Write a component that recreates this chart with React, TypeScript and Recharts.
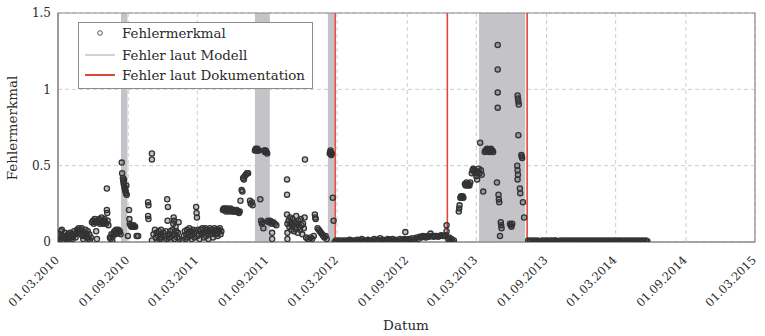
import React from 'react';
import { ScatterChart, Scatter, XAxis, YAxis, CartesianGrid, ReferenceArea, ReferenceLine, Legend } from 'recharts';

// x = days since 01.03.2010
const tickDays = [0, 184, 365, 549, 731, 915, 1096, 1280, 1461, 1645, 1826];
const tickLabels = ['01.03.2010', '01.09.2010', '01.03.2011', '01.09.2011', '01.03.2012', '01.09.2012', '01.03.2013', '01.09.2013', '01.03.2014', '01.09.2014', '01.03.2015'];
const yTicks = [0, 0.5, 1, 1.5];
const yTickLabels = ['0', '0.5', '1', '1.5'];

// "Fehler laut Modell" periods (start day, end day)
const modelBands: [number, number][] = [[165, 182], [516, 555], [707, 723], [1103, 1224]];
// "Fehler laut Dokumentation" dates
const docDays = [726, 1020, 1229];

// Fehlermerkmal: [day, value]
const seg2010a: [number, number][] = [
  [0,0.01],[2,0.03],[4,0.05],[6,0.02],[8,0.07],[10,0.08],[12,0.04],[14,0.01],[16,0.03],[18,0.06],[20,0.02],[22,0.04],[24,0.0],[26,0.05],[28,0.03],[30,0.01],[32,0.06],[34,0.03],[36,0.05],[38,0.02],[40,0.04],[42,0.07],[44,0.05],[46,0.03],[48,0.06],[50,0.08],[52,0.07],[54,0.09],[56,0.06],[58,0.08],[60,0.05],[62,0.09],[64,0.04],[66,0.02],[68,0.06],[70,0.04],[72,0.08],[74,0.05],[76,0.03],[78,0.07],[80,0.02],[82,0.05],[84,0.01],[86,0.03],
  [89,0.13],[92,0.14],[94,0.12],[96,0.15],[98,0.13],[100,0.07],[102,0.02],[104,0.14],[106,0.13],[108,0.15],[110,0.12],[112,0.14],[114,0.16],[116,0.13],[118,0.12],[120,0.14],[122,0.15],[124,0.13],[126,0.12],[128,0.35],[128,0.21],[129,0.19],[130,0.14],[132,0.11],
  [136,0.03],[138,0.02],[140,0.05],[142,0.01],[144,0.04],[146,0.06],[148,0.07],[150,0.05],[152,0.08],[154,0.06],[156,0.07],[158,0.08],[160,0.06],[162,0.07],[164,0.05],
  [167,0.52],[168,0.45],[170,0.42],[171,0.4],[172,0.38],[173,0.41],[174,0.36],[175,0.35],[176,0.34],[177,0.33],[178,0.32],[179,0.37],[180,0.31],
  [183,0.04],[186,0.21],[187,0.15],[188,0.12],[190,0.11],[192,0.1],[194,0.11],[196,0.1],[198,0.11],[200,0.1],[202,0.1],[206,0.04],[210,0.04],
];
const seg2010b: [number, number][] = [
  [236,0.26],[237,0.24],[236,0.17],[237,0.15],[246,0.58],[246,0.54],[246,0.01],[250,0.05],[254,0.08],[256,0.03],[258,0.06],[260,0.0],[262,0.04],[264,0.07],[266,0.02],[268,0.05],[270,0.08],[272,0.03],[276,0.06],[278,0.01],[280,0.04],[282,0.07],[284,0.02],[286,0.28],[288,0.23],[287,0.14],[290,0.05],[292,0.03],[294,0.07],[296,0.0],[298,0.04],[300,0.08],[302,0.12],[303,0.16],[304,0.14],[305,0.02],[306,0.05],[308,0.1],[310,0.07],[312,0.03],[314,0.06],[316,0.13],[318,0.02],[326,0.01],
  [330,0.04],[332,0.07],[334,0.02],[336,0.05],[338,0.08],[340,0.03],[342,0.06],[344,0.09],[346,0.04],[348,0.07],[350,0.02],[352,0.05],[354,0.08],[356,0.06],[358,0.03],[360,0.07],[362,0.23],[363,0.19],[364,0.16],[365,0.04],[367,0.08],[369,0.05],[371,0.02],
  [374,0.08],[376,0.05],[378,0.09],[380,0.06],[382,0.03],[384,0.07],[386,0.09],[388,0.04],[390,0.08],[392,0.06],[394,0.02],[396,0.07],[398,0.09],[400,0.05],[402,0.08],[404,0.06],[406,0.03],[408,0.07],[410,0.09],[412,0.05],[414,0.08],[416,0.06],[418,0.04],[420,0.08],[422,0.07],[424,0.09],[426,0.05],[428,0.07],
];
const seg2011: [number, number][] = [
  [432,0.21],[434,0.22],[436,0.21],[438,0.22],[440,0.2],[442,0.21],[444,0.22],[446,0.21],[448,0.2],[450,0.21],[452,0.22],[454,0.21],[456,0.2],[458,0.21],[460,0.2],[462,0.21],[464,0.2],[466,0.2],[468,0.21],[470,0.2],[472,0.2],[474,0.19],[476,0.2],
  [478,0.27],[481,0.34],[483,0.33],[485,0.42],[487,0.41],[489,0.43],[492,0.44],[495,0.45],[498,0.45],[503,0.27],[505,0.25],[508,0.26],[510,0.24],
  [516,0.6],[518,0.61],[520,0.6],[522,0.61],[524,0.6],[526,0.6],[530,0.28],[532,0.14],[534,0.12],[536,0.13],[538,0.09],[540,0.6],[542,0.59],[544,0.6],[546,0.59],[548,0.58],[550,0.14],[552,0.13],
  [556,0.14],[558,0.13],[560,0.12],[561,0.06],[561,0.02],[564,0.13],[568,0.12],[572,0.11],
  [600,0.41],[600,0.31],[600,0.18],[601,0.12],[601,0.06],[601,0.02],
  [604,0.14],[606,0.1],[608,0.16],[610,0.12],[612,0.08],[614,0.15],[616,0.11],[618,0.07],[620,0.13],[622,0.09],[624,0.17],[626,0.12],[628,0.06],[630,0.14],[632,0.1],[634,0.08],[636,0.15],[638,0.11],[640,0.05],[642,0.12],[644,0.09],[646,0.16],[647,0.54],
  [650,0.03],[654,0.02],[658,0.01],[662,0.03],[666,0.02],[670,0.04],[673,0.18],[674,0.16],[675,0.15],
  [680,0.09],[683,0.08],[686,0.07],[689,0.06],[692,0.05],[695,0.04],[698,0.03],[701,0.04],[704,0.02],
  [712,0.58],[713,0.59],[714,0.6],[715,0.58],[716,0.57],[717,0.58],[720,0.29],[722,0.14],[725,0.0],
];
const seg2012: [number, number][] = [
  [728,0.01],[732,0.0],[736,0.01],[740,0.005],[744,0.01],[748,0.0],[752,0.01],[756,0.005],[760,0.01],[764,0.015],[768,0.005],[772,0.01],[776,0.0],[780,0.01],[784,0.015],[788,0.005],[792,0.01],[796,0.02],[800,0.01],[804,0.005],[808,0.01],[812,0.015],[816,0.01],[820,0.005],[824,0.01],[828,0.02],[832,0.01],[836,0.015],[840,0.01],[844,0.025],[848,0.01],[852,0.015],[856,0.005],[860,0.01],[864,0.02],[868,0.015],[872,0.01],[876,0.02],[880,0.01],[884,0.015],[888,0.005],[892,0.01],[896,0.02],[900,0.01],[904,0.015],[908,0.02],[910,0.065],[912,0.01],[916,0.015],[920,0.02],[924,0.01],[928,0.025],[932,0.015],[936,0.02],[940,0.03],[944,0.02],[948,0.035],[952,0.03],[956,0.04],[960,0.035],[964,0.03],[968,0.04],[972,0.035],[976,0.055],[980,0.04],[984,0.035],[988,0.04],[992,0.04],[996,0.035],[1000,0.04],[1004,0.045],[1008,0.04],[1012,0.04],[1016,0.045],[1018,0.11],[1018,0.07],
  [1022,0.02],[1025,0.03],[1028,0.01],[1031,0.02],[1034,0.0],[1037,0.01],
];
const seg2013: [number, number][] = [
  [1050,0.2],[1051,0.22],[1052,0.24],[1054,0.29],[1056,0.3],[1058,0.29],[1060,0.3],[1062,0.29],[1066,0.38],[1068,0.37],[1070,0.39],[1072,0.38],[1074,0.37],[1076,0.38],[1078,0.37],[1080,0.39],
  [1084,0.45],[1086,0.47],[1088,0.48],[1090,0.46],[1092,0.47],[1094,0.45],[1096,0.43],[1098,0.41],[1100,0.46],[1102,0.48],[1104,0.45],[1106,0.65],[1108,0.47],[1110,0.44],[1114,0.33],
  [1118,0.59],[1120,0.6],[1122,0.6],[1124,0.61],[1126,0.6],[1128,0.6],[1130,0.59],[1132,0.6],[1134,0.61],[1136,0.6],[1138,0.6],[1140,0.59],
  [1150,0.39],[1152,1.29],[1152,1.13],[1152,0.98],[1152,0.88],[1154,0.31],[1155,0.28],[1156,0.26],[1160,0.13],[1161,0.11],[1162,0.09],[1158,0.04],[1184,0.12],[1186,0.11],[1188,0.1],[1190,0.12],
  [1204,0.96],[1205,0.94],[1206,0.92],[1207,0.9],[1206,0.7],[1203,0.5],[1204,0.47],[1205,0.44],[1204,0.41],[1210,0.35],[1211,0.32],
  [1214,0.57],[1215,0.56],[1216,0.55],[1218,0.26],[1221,0.16],
];
const seg2014: [number, number][] = [
  [1232,0.01],[1236,0.005],[1240,0.01],[1244,0.0],[1248,0.01],[1252,0.005],[1256,0.01],[1260,0.005],[1264,0.0],[1268,0.01],[1272,0.005],[1276,0.01],[1280,0.005],[1284,0.01],[1288,0.0],[1292,0.01],[1296,0.005],[1300,0.01],[1304,0.01],[1308,0.005],[1312,0.0],[1316,0.01],[1320,0.005],[1324,0.01],[1328,0.005],[1332,0.01],[1336,0.0],[1340,0.01],[1344,0.005],[1348,0.01],[1352,0.005],[1356,0.01],[1360,0.0],[1364,0.01],[1368,0.005],[1372,0.01],[1376,0.005],[1380,0.01],[1384,0.0],[1388,0.01],[1392,0.005],[1396,0.01],[1400,0.005],[1404,0.01],[1408,0.0],[1412,0.01],[1416,0.005],[1420,0.01],[1424,0.005],[1428,0.01],[1432,0.0],[1436,0.01],[1440,0.005],[1444,0.01],[1448,0.005],[1452,0.01],[1456,0.0],[1460,0.01],[1464,0.005],[1468,0.01],[1472,0.005],[1476,0.01],[1480,0.0],[1484,0.01],[1488,0.005],[1492,0.01],[1496,0.005],[1500,0.01],[1504,0.0],[1508,0.01],[1512,0.005],[1516,0.01],[1520,0.005],[1524,0.01],[1528,0.0],[1532,0.01],[1536,0.005],[1540,0.01],[1544,0.005],
];

const points = [...seg2010a, ...seg2010b, ...seg2011, ...seg2012, ...seg2013, ...seg2014].map(([x, y]) => ({ x, y }));

const SERIF = '"DejaVu Serif", serif';
const TEXT = '#2a2a2a';
const BAND = '#c4c4c8';
const RED = '#e0453a';
const FRAME = '#8c8c8c';
const serifStyle = { fontFamily: SERIF };

const Marker = (props: any) => (
  <circle cx={props.cx} cy={props.cy} r={2.6} fill="#2a2a2a" fillOpacity={0.28} stroke="#333333" strokeWidth={1.3} />
);

const XTick = (props: any) => {
  const { x, y, payload } = props;
  const i = tickDays.indexOf(payload.value);
  const ax = x - 1;
  const ay = y + 8;
  return (
    <text x={ax} y={ay} dy="0.35em" textAnchor="end" transform={`rotate(-45 ${ax} ${ay})`} style={serifStyle} fontSize={11.5} fill={TEXT}>
      {tickLabels[i]}
    </text>
  );
};

const YTick = (props: any) => {
  const { y, payload } = props;
  const i = yTicks.indexOf(payload.value);
  return (
    <text x={51} y={y} dy="0.35em" textAnchor="end" style={serifStyle} fontSize={12} fill={TEXT}>
      {yTickLabels[i]}
    </text>
  );
};

const LegendBox = () => (
  <div style={{ width: 235, height: 67, boxSizing: 'border-box', border: `1px solid ${FRAME}`, background: '#fff' }}>
    <svg width={233} height={65} style={{ display: 'block' }}>
      <circle cx={21} cy={10} r={2.3} fill="none" stroke="#555" strokeWidth={1} />
      <line x1={6} x2={36} y1={32} y2={32} stroke={BAND} strokeWidth={1.5} />
      <line x1={6} x2={36} y1={52} y2={52} stroke={RED} strokeWidth={2} />
      <text x={43} y={15} style={serifStyle} fontSize={13.4} fill={TEXT}>Fehlermerkmal</text>
      <text x={43} y={37} style={serifStyle} fontSize={13.4} fill={TEXT}>Fehler laut Modell</text>
      <text x={43} y={57} style={serifStyle} fontSize={13.4} fill={TEXT}>Fehler laut Dokumentation</text>
    </svg>
  </div>
);

export default function App() {
  return (
    <div style={{ position: 'absolute', left: 0, top: 0, fontFamily: SERIF }}>
      <ScatterChart width={765} height={336} margin={{ top: 13, right: 10, bottom: 0, left: 0 }}>
        <CartesianGrid stroke="#cdcdcd" strokeDasharray="4 3" />
        <XAxis
          type="number"
          dataKey="x"
          domain={[0, 1826]}
          ticks={tickDays}
          interval={0}
          height={94}
          tick={<XTick />}
          tickLine={false}
          axisLine={{ stroke: FRAME, strokeWidth: 1.2 }}
          allowDataOverflow
          label={() => (
            <text x={406} y={330} textAnchor="middle" style={serifStyle} fontSize={13.5} fill={TEXT}>Datum</text>
          )}
        />
        <YAxis
          type="number"
          dataKey="y"
          domain={[0, 1.5]}
          ticks={yTicks}
          interval={0}
          width={58}
          tick={<YTick />}
          tickLine={false}
          axisLine={{ stroke: FRAME, strokeWidth: 1.2 }}
          allowDataOverflow
          label={() => (
            <text x={17} y={128} textAnchor="middle" transform="rotate(-90 17 128)" style={serifStyle} fontSize={13.5} fill={TEXT}>Fehlermerkmal</text>
          )}
        />
        {modelBands.map(([a, b], i) => (
          <ReferenceArea key={`band${i}`} x1={a} x2={b} y1={0} y2={1.5} fill={BAND} fillOpacity={1} stroke="none" ifOverflow="hidden" />
        ))}
        {docDays.map((d, i) => (
          <ReferenceLine key={`doc${i}`} x={d} stroke={RED} strokeWidth={1.6} />
        ))}
        <ReferenceArea x1={0} x2={1826} y1={0} y2={1.5} fill="none" stroke={FRAME} strokeWidth={1.2} />
        <Scatter data={points} shape={<Marker />} isAnimationActive={false} />
        <Legend
          content={<LegendBox />}
          layout="vertical"
          align="center"
          verticalAlign="middle"
          wrapperStyle={{ left: 78, top: 22, width: 235, height: 67 }}
        />
      </ScatterChart>
    </div>
  );
}
